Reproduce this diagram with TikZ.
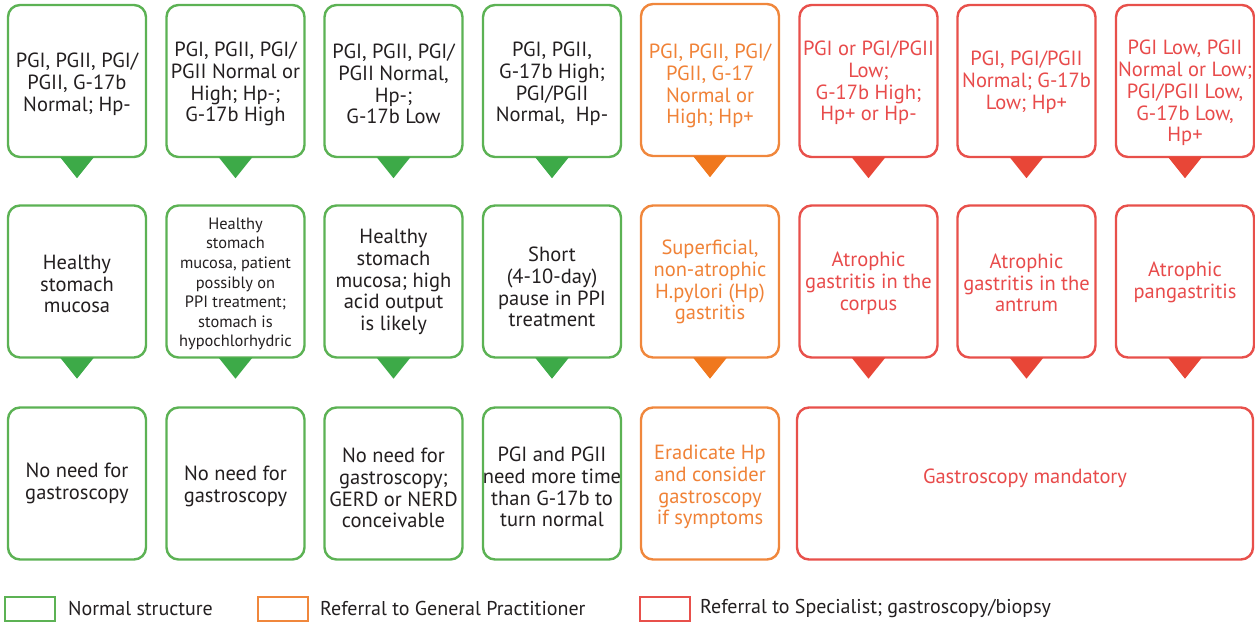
\documentclass[tikz,border=0pt]{standalone}
\usepackage{fontspec}
\setmainfont{PT Sans}
\definecolor{gline}{RGB}{92,178,84}
\definecolor{gfill}{RGB}{61,170,72}
\definecolor{oline}{RGB}{240,135,60}
\definecolor{ofill}{RGB}{240,120,30}
\definecolor{otext}{RGB}{240,130,55}
\definecolor{rline}{RGB}{232,80,75}
\definecolor{rfill}{RGB}{232,70,55}
\definecolor{rtext}{RGB}{232,75,75}
\definecolor{ink}{RGB}{35,31,32}
\newcommand\pointer[2]{\fill[#1] ([xshift=-17pt,yshift=1.2pt]#2.south) -- ([xshift=17pt,yshift=1.2pt]#2.south) -- ([yshift=-20pt]#2.south) -- cycle;}
\begin{document}
\begin{tikzpicture}[x=1pt,y=-1pt,
  box/.style={rectangle, rounded corners=12pt, line width=2.4pt, minimum width=138pt, minimum height=152pt, inner sep=0pt, fill=white},
  gbox/.style={box, draw=gline},
  obox/.style={box, draw=oline},
  rbox/.style={box, draw=rline},
  txt/.style={align=center, inner sep=0pt, font=\fontsize{20.5}{21.8}\selectfont},
  gtxt/.style={txt, text=ink},
  otxt/.style={txt, text=otext},
  rtxt/.style={txt, text=rtext},
  lgbox/.style={rectangle, line width=2pt, minimum width=50pt, minimum height=24pt, inner sep=0pt},
  lgtxt/.style={anchor=west, inner sep=0pt, text=ink, font=\fontsize{20}{22}\selectfont}]
\useasboundingbox (0,0) rectangle (1255,622);
% ---------- row 1 ----------
\node[gbox] (a1) at (77,81) {};
\node[gbox] (a2) at (235.5,81) {};
\node[gbox] (a3) at (393.5,81) {};
\node[gbox] (a4) at (552,81) {};
\node[obox] (a5) at (710,80) {};
\node[rbox] (a6) at (868.5,81) {};
\node[rbox] (a7) at (1026.5,81) {};
\node[rbox] (a8) at (1185,81) {};
\foreach \n in {a1,a2,a3,a4}{\pointer{gfill}{\n}}
\pointer{ofill}{a5}
\foreach \n in {a6,a7,a8}{\pointer{rfill}{\n}}
\node[gtxt] (ta1) at (77,84) {PGI, PGII, PGI/\\PGII, G-17b\\Normal; Hp-};
\node[gtxt] (ta2) at (235.5,84) {PGI, PGII, PGI/\\PGII Normal or\\High; Hp-;\\G-17b High};
\node[gtxt] (ta3) at (393.5,84) {PGI, PGII, PGI/\\PGII Normal,\\Hp-;\\G-17b Low};
\node[gtxt] (ta4) at (552,84) {PGI, PGII,\\G-17b High;\\PGI/PGII\\Normal,\ \ Hp-};
\node[otxt] (ta5) at (710,86) {PGI, PGII, PGI/\\PGII, G-17\\Normal or\\High; Hp+};
\node[rtxt] (ta6) at (868.5,83) {PGI or PGI/PGII\\Low;\\G-17b High;\\Hp+ or Hp-};
\node[rtxt] (ta7) at (1026.5,82) {PGI, PGI/PGII\\Normal; G-17b\\Low; Hp+};
\node[rtxt] (ta8) at (1185,93) {PGI Low, PGII\\Normal or Low;\\PGI/PGII Low,\\G-17b Low,\\Hp+};
% ---------- row 2 ----------
\node[gbox] (b1) at (77,281.5) {};
\node[gbox] (b2) at (235.5,281.5) {};
\node[gbox] (b3) at (393.5,281.5) {};
\node[gbox] (b4) at (552,281.5) {};
\node[obox] (b5) at (710,281.5) {};
\node[rbox] (b6) at (868.5,281.5) {};
\node[rbox] (b7) at (1026.5,281.5) {};
\node[rbox] (b8) at (1185,281.5) {};
\foreach \n in {b1,b2,b3,b4}{\pointer{gfill}{\n}}
\pointer{ofill}{b5}
\foreach \n in {b6,b7,b8}{\pointer{rfill}{\n}}
\node[gtxt] (tb1) at (77,284) {Healthy\\stomach\\mucosa};
\node[gtxt, font=\fontsize{16.4}{19.6}\selectfont] (tb2) at (235.5,284) {Healthy\\stomach\\mucosa, patient\\possibly on\\PPI treatment;\\stomach is\\hypochlorhydric};
\node[gtxt] (tb3) at (393.5,282) {Healthy\\stomach\\mucosa; high\\acid output\\is likely};
\node[gtxt] (tb4) at (552,287) {Short\\(4-10-day)\\pause in PPI\\treatment};
\node[otxt] (tb5) at (710,282) {Superficial,\\non-atrophic\\H.pylori (Hp)\\gastritis};
\node[rtxt] (tb6) at (868.5,283) {Atrophic\\gastritis in the\\corpus};
\node[rtxt] (tb7) at (1026.5,283) {Atrophic\\gastritis in the\\antrum};
\node[rtxt] (tb8) at (1185,282) {Atrophic\\pangastritis};
% ---------- row 3 ----------
\node[gbox] (c1) at (77,483.5) {};
\node[gbox] (c2) at (235.5,483.5) {};
\node[gbox] (c3) at (393.5,483.5) {};
\node[gbox] (c4) at (552,483.5) {};
\node[obox] (c5) at (710,483.5) {};
\node[rbox, minimum width=456pt] (c6) at (1025,483.5) {};
\node[gtxt] (tc1) at (77,483) {No need for\\gastroscopy};
\node[gtxt] (tc2) at (235.5,486) {No need for\\gastroscopy};
\node[gtxt] (tc3) at (393.5,488) {No need for\\gastroscopy;\\GERD or NERD\\conceivable};
\node[gtxt] (tc4) at (552,487) {PGI and PGII\\need more time\\than G-17b to\\turn normal};
\node[otxt] (tc5) at (710,487) {Eradicate Hp\\and consider\\gastroscopy\\if symptoms};
\node[rtxt] (tc6) at (1025,478) {Gastroscopy mandatory};
% ---------- legend ----------
\node[lgbox, draw=gline] (lg1) at (30,609) {};
\node[lgtxt] (lt1) at (68,608) {Normal structure};
\node[lgbox, draw=oline] (lg2) at (282.5,609) {};
\node[lgtxt] (lt2) at (320,608) {Referral to General Practitioner};
\node[lgbox, draw=rline] (lg3) at (665,609) {};
\node[lgtxt] (lt3) at (700,608) {Referral to Specialist; gastroscopy/biopsy};
\end{tikzpicture}
\end{document}
